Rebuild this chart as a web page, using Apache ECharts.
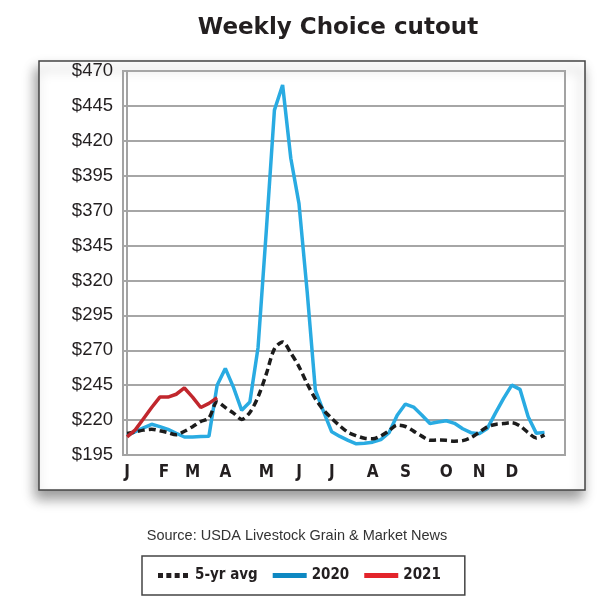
<!DOCTYPE html>
<html>
<head>
<meta charset="utf-8">
<script src="https://cdn.jsdelivr.net/npm/echarts@6/dist/echarts.min.js"></script>
<style>html,body{margin:0;padding:0;background:#fff;}#c{width:610px;height:600px;}</style>
</head>
<body>
<div id="c"></div>
<script>
// Month labels and the week position (index) where each is shown
var monthLabels = ['J','F','M','A','M','J','J','A','S','O','N','D'];
var monthWeeks  = [0, 4.5, 8, 12, 17, 21, 25, 30, 34, 39, 43, 47];

// Weekly Choice cutout, $/cwt
var avg5yr = [210.5,211.5,212.8,213.4,212.4,211,209.5,212,215.3,219,221.5,233,229,225,220.5,225.5,
  236.6,252.9,271,276,268,258.3,246,235.3,227.2,221.2,215.8,211.2,208.8,207,206.6,208.7,212.4,216.4,
  215.4,212.1,208.5,205.5,205.7,205.5,204.9,205.3,207.4,211.2,215.2,216.9,217.5,218.2,215.8,211,207.2,209.3];
var y2020 = [209,211.7,214.5,217,215.3,213.4,210.6,207.9,207.9,208.2,208.5,245,257,243.4,227,233,
  272,355,442,460,407.5,375,312,241.5,226,211.6,208.3,205.5,203,203.4,204.2,206,211,223.5,231.5,229.3,
  223.7,217.6,218.6,219.5,217.7,213.8,211,210.2,213.9,225,235.5,245,242,222.4,210.5,211.2];
var y2021 = [208,213,221,229,236.5,236.5,238.5,243,236.5,229,232,236];

var yMin = 195, yMax = 470, yStep = 25;

function toPairs(arr){ return arr.map(function(v,i){ return [i, v]; }); }

var monthMap = {};
monthWeeks.forEach(function(w,i){ monthMap[String(w)] = monthLabels[i]; });

var condensed = "'Liberation Sans Narrow','DejaVu Sans Condensed',sans-serif";

var chart = echarts.init(document.getElementById('c'), null, {renderer:'canvas'});
chart.setOption({
  animation: false,
  backgroundColor: '#fff',
  title: {
    text: 'Weekly Choice cutout',
    left: 333, top: 12, textAlign: 'center',
    textStyle: {fontFamily: 'DejaVu Sans', fontWeight: 'bold', fontSize: 23, color: '#231f20'}
  },
  graphic: [
    {type:'rect', z:-10, shape:{x:39, y:61, width:546, height:429},
     style:{fill:'#fff', stroke:'#444', lineWidth:1.5, shadowBlur:12, shadowOffsetX:-3, shadowOffsetY:8, shadowColor:'rgba(0,0,0,0.4)'}},
    {type:'text', x:297, y:536, style:{text:'Source: USDA Livestock Grain & Market News', font:'14.5px "Liberation Sans", Arial, sans-serif', fill:'#333', textAlign:'center', textVerticalAlign:'middle'}}
  ],
  grid: {left:123, right:45, top:71, bottom:145, show:true, borderColor:'#a3a3a3', borderWidth:2, backgroundColor:'transparent'},
  legend: {
    left: 142, top: 556,
    padding: [12, 24, 12, 16],
    itemGap: 15, itemWidth: 34, itemHeight: 5,
    backgroundColor: '#fff', borderColor: '#444', borderWidth: 1.5,
    textStyle: {fontFamily: condensed, fontWeight: 'bold', fontSize: 15, color: '#231f20'},
    data: [
      {name:'5-yr avg', icon:'path://M0,0h6v6h-6z M10,0h6v6h-6z M20,0h6v6h-6z M30,0h6v6h-6z', itemStyle:{color:'#231f20'}},
      {name:'2020', icon:'rect', itemStyle:{color:'#0e88c2'}},
      {name:'2021', icon:'rect', itemStyle:{color:'#e3242b'}}
    ]
  },
  xAxis: {
    type:'value', min:-0.5, max:53.5, interval:0.5,
    axisLine:{show:true, lineStyle:{color:'#a3a3a3', width:2}},
    axisTick:{show:false}, splitLine:{show:false},
    axisLabel:{
      margin: 9,
      fontFamily: condensed, fontWeight:'bold', fontSize:17, color:'#231f20',
      formatter: function(v){ var k = String(Math.round(v*2)/2); return monthMap[k] || ''; }
    }
  },
  yAxis: {
    type:'value', min:yMin, max:yMax, interval:yStep,
    axisLine:{show:true, lineStyle:{color:'#a3a3a3', width:2}},
    axisTick:{show:false},
    splitLine:{show:true, lineStyle:{color:'#a6a6a6', width:2}},
    axisLabel:{margin:10, fontFamily:'"Liberation Sans", Arial, sans-serif', fontSize:18.5, color:'#231f20',
      formatter: function(v){ return '$' + v; }}
  },
  series: [
    {name:'2020', type:'line', data:toPairs(y2020), showSymbol:false, symbol:'none',
     lineStyle:{color:'#29abe2', width:3.5}, itemStyle:{color:'#29abe2'}, z:2},
    {name:'5-yr avg', type:'line', data:toPairs(avg5yr), showSymbol:false, symbol:'none', smooth:0.3,
     lineStyle:{color:'#1c1c1c', width:3.5, type:[7,4]}, itemStyle:{color:'#1c1c1c'}, z:3},
    {name:'2021', type:'line', data:toPairs(y2021), showSymbol:false, symbol:'none',
     lineStyle:{color:'#c1272d', width:3.5}, itemStyle:{color:'#c1272d'}, z:4}
  ]
});
</script>
</body>
</html>
